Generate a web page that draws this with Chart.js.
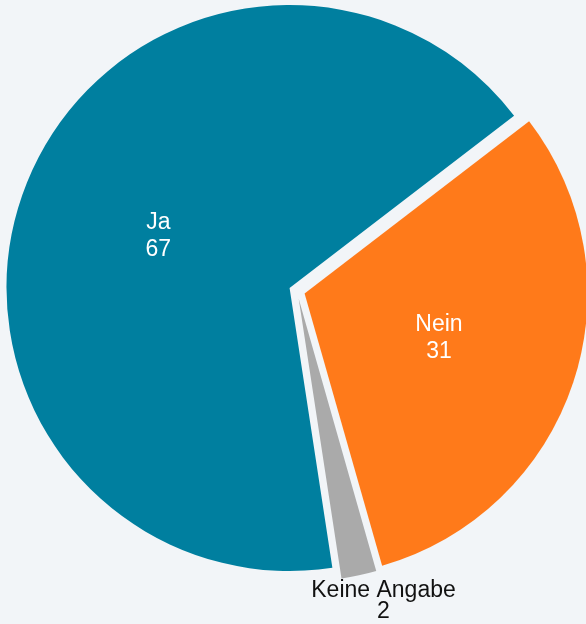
<!DOCTYPE html>
<html lang="de">
<head>
<meta charset="utf-8">
<title>Ja / Nein / Keine Angabe</title>
<script src="https://cdn.jsdelivr.net/npm/chart.js@4/dist/chart.umd.min.js"></script>
<style>
    html, body {
        margin: 0;
        padding: 0;
        background: #f2f5f8;
    }
    #wrap {
        position: relative;
        width: 586px;
        height: 624px;
    }
</style>
</head>
<body>
<div id="wrap"><canvas id="chart"></canvas></div>
<script>
const labels = ["Ja", "Nein", "Keine Angabe"];
const values = [67, 31, 2];
const colors = ["#007f9f", "#ff7a1a", "#aaaaaa"];

const FONT = "Arial, 'Liberation Sans', sans-serif";
const EXPLODE = 8;
const INSIDE_MIN_SHARE = 0.05;

// each slice is pushed out along its bisector as a whole (chart.js "offset" also grows the radius)
const explodePlugin = {
    id: "explode",
    beforeDatasetDraw(chart, args) {
        const ctx = chart.ctx;
        args.meta.data.forEach((arc) => {
            const mid = (arc.startAngle + arc.endAngle) / 2;
            ctx.save();
            ctx.translate(Math.cos(mid) * EXPLODE, Math.sin(mid) * EXPLODE);
            arc.draw(ctx, chart.chartArea);
            ctx.restore();
        });
        return false;
    },
};

const sliceLabelPlugin = {
    id: "sliceLabels",
    afterDraw(chart) {
        const ctx = chart.ctx;
        const meta = chart.getDatasetMeta(0);
        const total = values.reduce((sum, value) => sum + value, 0);
        ctx.save();
        ctx.font = `23px ${FONT}`;
        ctx.textAlign = "center";
        ctx.textBaseline = "middle";
        meta.data.forEach((arc, index) => {
            const mid = (arc.startAngle + arc.endAngle) / 2;
            const dx = Math.cos(mid);
            const dy = Math.sin(mid);
            const lines = [labels[index], String(values[index])];
            if (values[index] / total >= INSIDE_MIN_SHARE) {
                const dist = arc.outerRadius / 2 + EXPLODE;
                const x = arc.x + dx * dist;
                const y = arc.y + dy * dist;
                ctx.fillStyle = "#ffffff";
                ctx.fillText(lines[0], x, y - 13);
                ctx.fillText(lines[1], x, y + 14);
            } else {
                const dist = arc.outerRadius + EXPLODE + 2;
                const ax = arc.x + dx * dist;
                const ay = arc.y + dy * dist;
                const halfWidth = Math.max(...lines.map((line) => ctx.measureText(line).width)) / 2;
                const x = ax + Math.sign(dx) * halfWidth / 3;
                ctx.fillStyle = "#111111";
                ctx.fillText(lines[0], x, ay + 13);
                ctx.fillText(lines[1], x, ay + 34);
            }
        });
        ctx.restore();
    },
};

new Chart(document.getElementById("chart"), {
    type: "pie",
    data: {
        labels: labels,
        datasets: [
            {
                data: values,
                backgroundColor: colors,
                borderWidth: 0,
            },
        ],
    },
    options: {
        responsive: true,
        maintainAspectRatio: false,
        animation: false,
        rotation: 171.3,
        radius: 283,
        layout: {
            padding: { left: 8, right: 0, top: 0, bottom: 42 },
        },
        plugins: {
            legend: { display: false },
            tooltip: { enabled: false },
        },
    },
    plugins: [explodePlugin, sliceLabelPlugin],
});
</script>
</body>
</html>
